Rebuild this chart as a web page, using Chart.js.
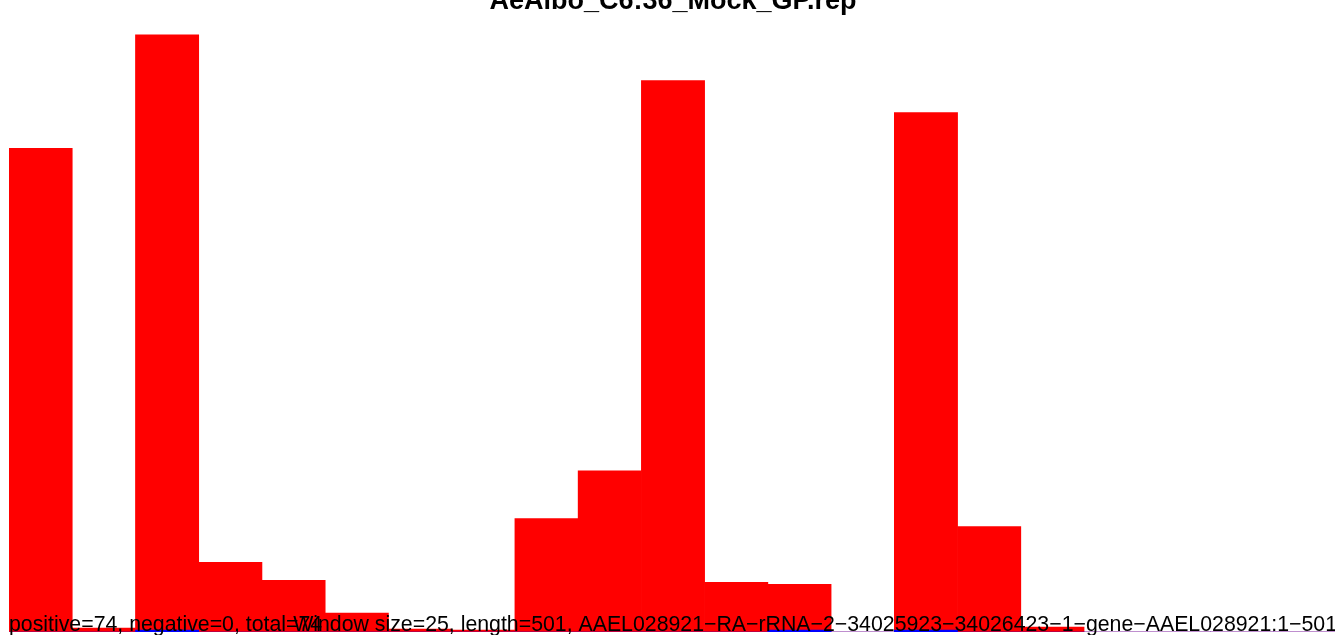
<!DOCTYPE html>
<html>
<head>
<meta charset="utf-8">
<script src="https://cdn.jsdelivr.net/npm/chart.js@4/dist/chart.umd.min.js"></script>
<style>
  html, body { margin: 0; padding: 0; background: #fff; overflow: hidden; }
  #wrap { width: 1335px; height: 635px; overflow: hidden; }
</style>
</head>
<body>
<div id="wrap"><canvas id="cov" width="1337" height="635"></canvas></div>
<script>
// 25-nt windows along the 501-nt feature
const windows = ['1', '26', '51', '76', '101', '126', '151', '176', '201', '226', '251',
  '276', '301', '326', '351', '376', '401', '426', '451', '476', '501'];
const positiveCov = [24.3, 0.2, 30.0, 3.5, 2.6, 0.95, 0.15, 0.1, 5.7, 8.1, 27.7,
  2.5, 2.4, 0, 26.1, 5.3, 0.25, 0, 0, 0, 0];
const negativeCov = [0, 0, 0.1, 0, 0, 0, 0, 0, 0, 0, 0,
  0, 0.1, 0, 0.1, 0, 0, 0, 0, 0, 0];
const yMax = 31.2;

const chartTitle = 'AeAlbo_C6:36_Mock_GP.rep';
const leftNote = 'positive=74, negative=0, total=74';
const rightNote = 'Window size=25, length=501, AAEL028921\u2212RA\u2212rRNA\u22122\u221234025923\u221234026423\u22121\u2212gene\u2212AAEL028921:1\u2212501';

// title and footer text are drawn the way the R plot placed them
const textPlugin = {
    id: 'repText',
    afterDraw(chart) {
        const ctx = chart.ctx;
        const area = chart.chartArea;
        ctx.save();
        ctx.fillStyle = '#000';
        ctx.textBaseline = 'alphabetic';

        ctx.font = 'bold 27px "Liberation Sans", Arial, sans-serif';
        ctx.textAlign = 'center';
        ctx.fillText(chartTitle, (area.left + area.right) / 2, 9);

        ctx.font = '21.3px "Liberation Sans", Arial, sans-serif';
        ctx.textAlign = 'left';
        ctx.fillText(leftNote, 9, 631);
        ctx.textAlign = 'right';
        ctx.fillText(rightNote, 1337, 631);
        ctx.restore();
    }
};

const ctx = document.getElementById('cov').getContext('2d');
new Chart(ctx, {
    type: 'bar',
    data: {
        labels: windows,
        datasets: [{
            label: 'positive',
            data: positiveCov,
            backgroundColor: '#ff0000',
            borderWidth: 0,
            order: 2
        }, {
            label: 'negative',
            data: negativeCov,
            backgroundColor: '#0000ff',
            borderWidth: 0,
            order: 1
        }]
    },
    options: {
        responsive: false,
        animation: false,
        layout: {
            padding: { left: 9, right: 0, top: 11, bottom: 3 }
        },
        datasets: {
            bar: {
                barPercentage: 1,
                categoryPercentage: 1,
                grouped: false
            }
        },
        scales: {
            x: { display: false },
            y: { display: false, min: 0, max: yMax }
        },
        plugins: {
            legend: { display: false },
            tooltip: { enabled: false }
        }
    },
    plugins: [textPlugin]
});
</script>
</body>
</html>
